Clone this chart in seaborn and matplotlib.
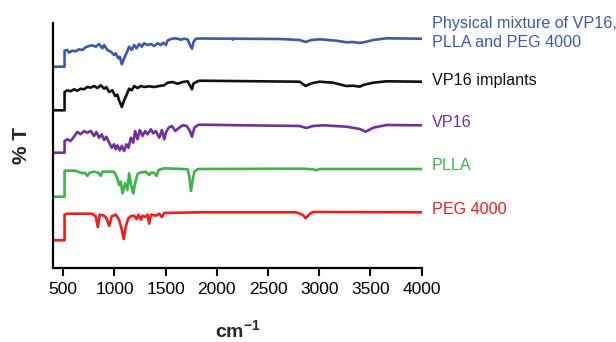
import matplotlib
matplotlib.use("Agg")
import matplotlib.pyplot as plt
import seaborn as sns
import pandas as pd

# ---- data (wavenumber cm-1, %T relative, baseline ~100) ----
mix_wn = [400, 513, 513, 540, 556, 588, 621, 654, 686, 719, 752, 784, 817, 850, 882, 899, 931, 964, 996,
          1013, 1036, 1052, 1072, 1094, 1117, 1143, 1169, 1192, 1215, 1241, 1267, 1290, 1323, 1356, 1388,
          1421, 1453, 1476, 1502, 1519, 1551, 1600, 1649, 1682, 1715, 1737, 1757, 1773, 1796, 1829, 2150,
          2155, 2160, 2612, 2808, 2867, 2922, 3004, 3167, 3265, 3330, 3396, 3461, 3526, 3657, 3983, 4000]
mix_t = [72.3, 72.3, 88.3, 89, 86.3, 88.3, 87.7, 89.7, 89, 91.7, 93, 93.7, 92.3, 95, 90.7, 94, 89, 87.3, 84,
         85.7, 80.7, 82.3, 74.7, 80.7, 85.7, 92.3, 89, 94, 90.7, 95, 92.3, 95.7, 94, 95, 93,
         95.7, 94, 96.3, 94, 98.5, 100, 100.7, 99.3, 100.3, 99.5, 94, 90.3, 97.3, 100.3, 100.5, 100.3,
         99.3, 100.3, 100, 99, 97, 99, 99.7, 98.3, 96.7, 97, 96, 97.3, 99, 100.7, 100.3, 100.3]

imp_wn = [400, 513, 513, 540, 572, 605, 637, 670, 703, 735, 768, 801, 833, 866, 899, 921, 948, 980, 1006,
          1029, 1045, 1072, 1094, 1117, 1143, 1169, 1192, 1225, 1258, 1290, 1339, 1388, 1437, 1486, 1519,
          1568, 1617, 1666, 1715, 1757, 1770, 1812, 1829, 2808, 2867, 2922, 3004, 3134, 3265, 3330, 3396,
          3428, 3526, 3657, 3983, 4000]
imp_t = [70.7, 70.7, 89, 90.7, 89.7, 91.7, 90.3, 92.3, 91.7, 94, 93.3, 95, 93, 95.7, 92.3, 94, 89, 90.7, 85,
         86.3, 80.7, 74, 80.7, 85.7, 92.3, 90.7, 95, 93, 95, 94, 94.7, 94, 95, 95.7, 98.3,
         99, 97.3, 99, 99.7, 91.7, 97.3, 99.7, 100.3, 99.3, 95, 97.7, 99.3, 98.3, 95, 95.3, 94.3,
         96, 98.3, 99.7, 99.3, 99.3]

vp_wn = [400, 513, 513, 540, 572, 605, 637, 670, 703, 735, 768, 801, 823, 850, 876, 899, 921, 948, 974, 996,
         1013, 1029, 1052, 1072, 1094, 1117, 1137, 1160, 1183, 1202, 1225, 1248, 1274, 1300, 1323, 1356,
         1378, 1404, 1437, 1463, 1486, 1502, 1529, 1561, 1594, 1633, 1666, 1705, 1737, 1757, 1780, 1812,
         1829, 2808, 2873, 2939, 3037, 3265, 3396, 3454, 3526, 3657, 3983, 4000]
vp_t = [72.3, 72.3, 84, 85.7, 84, 88.3, 93, 90.7, 94, 92.3, 94, 89, 93, 87.3, 90.7, 85, 88.3, 82.3, 77.3, 80.7,
        75.7, 79.7, 74.7, 79, 74, 80.7, 77.3, 87.3, 82.3, 94, 85.7, 95, 89, 94, 90.7, 95.7,
        91.7, 94, 87.3, 95, 85.7, 92.3, 97.3, 99, 94, 97.3, 99.7, 99, 94, 88.3, 97.3, 99.7,
        100.3, 99, 97, 99, 99.7, 98.3, 96, 93.3, 97.3, 100, 99.7, 99.7]

plla_wn = [400, 513, 513, 621, 686, 713, 735, 758, 801, 843, 866, 882, 996, 1029, 1045, 1062, 1078, 1104,
           1127, 1143, 1169, 1183, 1202, 1225, 1248, 1307, 1339, 1356, 1388, 1411, 1431, 1486, 1666, 1715,
           1731, 1747, 1764, 1780, 1812, 2841, 2939, 2971, 3004, 3983, 4000]
plla_t = [72.3, 72.3, 98.3, 98.3, 95.7, 96.3, 93, 96.3, 97.3, 96.3, 93, 97.3, 97.3, 90.7, 84, 87.3, 75.7, 85.7,
          79, 95.7, 80.7, 75.7, 85.7, 95, 96.3, 97.3, 94, 96.3, 96.3, 93, 99, 100.7, 100, 99.7,
          92.3, 78, 89, 97.3, 100, 100.3, 99.7, 98.7, 100, 100, 100]

peg_wn = [400, 513, 513, 540, 784, 817, 837, 856, 899, 921, 948, 974, 1013, 1045, 1072, 1091, 1111, 1137,
          1160, 1192, 1215, 1235, 1258, 1274, 1300, 1323, 1339, 1356, 1404, 1437, 1463, 1486, 1829, 2775,
          2841, 2867, 2906, 2939, 3983, 4000]
peg_t = [71.7, 71.7, 97.3, 98.3, 98.3, 95.7, 85, 97.3, 96.3, 94, 86.3, 95.7, 97.3, 92.3, 82.3, 73, 85.7, 94,
         95.7, 96.3, 93, 97.3, 92.3, 96.3, 95, 97.3, 88.3, 97.3, 96.3, 98.3, 95, 99, 99.7, 99.7,
         97, 93.7, 98, 100, 99.7, 99.7]

names = ["Physical mixture of VP16,\nPLLA and PEG 4000", "VP16 implants", "VP16", "PLLA", "PEG 4000"]
wns = [mix_wn, imp_wn, vp_wn, plla_wn, peg_wn]
ts = [mix_t, imp_t, vp_t, plla_t, peg_t]
offsets = [129, 87, 43, -1, -44]
colors = ["#3d58b0", "#111111", "#7030a0", "#3cb549", "#f21c1c"]
label_y = [235, 187, 145, 102, 59]
xticks = [500, 1000, 1500, 2000, 2500, 3000, 3500, 4000]

# ---- style ----
sns.set_style("white")
plt.rcParams["font.family"] = ["Liberation Sans", "DejaVu Sans"]
plt.rcParams["mathtext.fontset"] = "custom"
plt.rcParams["mathtext.rm"] = "Liberation Sans:bold"
plt.rcParams["mathtext.it"] = "Liberation Sans:bold"
plt.rcParams["mathtext.bf"] = "Liberation Sans:bold"

fig = plt.figure(figsize=(6.16, 3.42), dpi=100)
ax = fig.add_axes([53 / 616, (342 - 268) / 342, (421.7 - 53) / 616, (268 - 23) / 342])

for name, w, t, off, c in zip(names, wns, ts, offsets, colors):
    df = pd.DataFrame({"wn": w, "T": [v + off for v in t]})
    sns.lineplot(data=df, x="wn", y="T", ax=ax, color=c, lw=1.9, sort=False, estimator=None)

for name, c, ly in zip(names, colors, label_y):
    ax.text(4100, ly, name, color=c, fontsize=11.6, ha="left", va="center",
            clip_on=False, linespacing=1.3)

ax.set_xlim(400, 4000)
ax.set_ylim(0, 245)
ax.set_xticks(xticks)
ax.set_xticklabels([str(v) for v in xticks], fontsize=12.5)
ax.set_yticks([])
ax.tick_params(axis="x", direction="out", length=6, width=1.5, pad=4, colors="black", bottom=True)
for s in ["top", "right"]:
    ax.spines[s].set_visible(False)
for s in ["left", "bottom"]:
    ax.spines[s].set_linewidth(1.6)
    ax.spines[s].set_color("black")

ax.set_xlabel("cm$^{-1}$", fontsize=14, fontweight="bold", labelpad=16)
ax.set_ylabel("% T", fontsize=15, fontweight="bold", labelpad=16)

fig.savefig("out.png", dpi=100)
